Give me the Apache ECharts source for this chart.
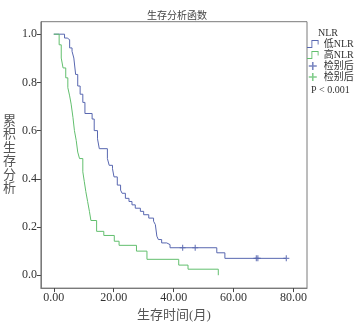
<!DOCTYPE html>
<html>
<head>
<meta charset="utf-8">
<script src="https://cdn.jsdelivr.net/npm/echarts@6/dist/echarts.min.js"></script>
<style>
  html, body { margin: 0; padding: 0; background: #fff; }
  #chart { width: 358px; height: 327px; }
</style>
</head>
<body>
<div id="chart"></div>
<script>
// ------------------------------------------------------------------
// 数据：Kaplan-Meier 生存曲线
// ------------------------------------------------------------------
const lowTime = [0, 3.6, 4.5, 5.3, 6.1, 6.7, 7.3, 8.0, 8.8, 9.7, 10.4, 12.8, 13.5, 14.6, 15.2,
  17.9, 18.5, 19.6, 20.1, 21.2, 22.3, 22.8, 23.9, 25.1, 26.1, 27.2, 28.9, 30.0, 31.7, 33.3,
  33.9, 34.4, 34.9, 36.0, 37.7, 38.8, 54.4, 57.1, 77.6]
const lowSurv = [1, 0.984, 0.977, 0.943, 0.929, 0.901, 0.833, 0.785, 0.751, 0.717, 0.671, 0.648,
  0.600, 0.566, 0.525, 0.484, 0.456, 0.442, 0.408, 0.374, 0.353, 0.340, 0.319, 0.306, 0.292,
  0.278, 0.265, 0.251, 0.237, 0.224, 0.210, 0.162, 0.148, 0.134, 0.127, 0.114, 0.093, 0.070, 0.070]

const highTime = [0, 1.8, 2.5, 3.1, 4.0, 4.7, 5.3, 5.8, 6.4, 6.9, 7.5, 8.0, 8.6, 9.7, 10.2, 10.7,
  11.3, 11.9, 12.4, 14.3, 16.7, 20.2, 21.8, 27.6, 31.1, 41.7, 44.8, 54.9]
const highSurv = [1, 0.956, 0.901, 0.860, 0.819, 0.778, 0.744, 0.710, 0.655, 0.600, 0.559, 0.511,
  0.484, 0.429, 0.388, 0.347, 0.306, 0.265, 0.227, 0.182, 0.165, 0.141, 0.124, 0.100, 0.066,
  0.042, 0.025, 0.0]

// 删失点
const lowCensorTime = [43.0, 47.2, 67.6, 68.1, 77.6]
const lowCensorSurv = [0.114, 0.114, 0.070, 0.070, 0.070]
const highCensorTime = []
const highCensorSurv = []

const xTicks = [0, 20, 40, 60, 80]
const yTicks = [0, 0.2, 0.4, 0.6, 0.8, 1.0]

const seriesNames = ['低NLR', '高NLR', '检别后', '检别后']

// ------------------------------------------------------------------
// 样式
// ------------------------------------------------------------------
const BLUE = '#5867b0'
const GREEN = '#62bf6e'
const FRAME = '#7a7a7a'
const TEXT = '#333'
const FONT = '"Liberation Serif", "Noto Sans CJK SC", serif'

const stepIcon = 'path://M0,9L5,9L5,1L13,1L13,6L12,6L12,2L6,2L6,10L0,10Z'
const plusIcon = 'path://M4,0L6,0L6,4L10,4L10,6L6,6L6,10L4,10L4,6L0,6L0,4L4,4Z'

const pair = (xs, ys) => xs.map((x, i) => [x, ys[i]])

const option = {
  animation: false,
  title: {
    text: '生存分析函数',
    left: 142,
    top: 6,
    textStyle: { fontFamily: FONT, fontSize: 10, fontWeight: 'normal', color: '#444' },
  },
  legend: {
    orient: 'vertical',
    left: 307,
    top: 39,
    itemWidth: 12,
    itemHeight: 8,
    itemGap: 1,
    padding: 0,
    textStyle: { fontFamily: FONT, fontSize: 10, color: TEXT, lineHeight: 9 },
    formatter: (name) => seriesNames[Number(name.slice(1))],
    data: [
      { name: 's0', icon: stepIcon },
      { name: 's1', icon: stepIcon },
      { name: 's2', icon: plusIcon },
      { name: 's3', icon: plusIcon },
    ],
  },
  graphic: [
    {
      type: 'text', left: 318, top: 28,
      style: { text: 'NLR', fontFamily: FONT, fontSize: 10, fill: TEXT },
    },
    {
      type: 'text', left: 311, top: 85,
      style: { text: 'P < 0.001', fontFamily: FONT, fontSize: 10, fill: TEXT },
    },
  ],
  grid: {
    left: 37.7,
    right: 51,
    top: 21.7,
    bottom: 36.3,
    show: true,
    borderColor: FRAME,
    borderWidth: 1,
  },
  xAxis: {
    type: 'value',
    min: -4.29,
    max: 84.5,
    name: '生存时间(月)',
    nameLocation: 'middle',
    nameGap: 19,
    nameTextStyle: { fontFamily: FONT, fontSize: 13, color: '#555' },
    axisLine: { show: true, onZero: false, lineStyle: { color: FRAME } },
    axisTick: { show: true, length: 4, lineStyle: { color: '#444' }, customValues: xTicks },
    axisLabel: {
      customValues: xTicks,
      formatter: (v) => v.toFixed(2),
      fontFamily: FONT, fontSize: 12, color: TEXT, margin: 4,
    },
    splitLine: { show: false },
  },
  yAxis: {
    type: 'value',
    min: -0.0534,
    max: 1.0518,
    name: '累\n积\n生\n存\n分\n析',
    nameLocation: 'middle',
    nameRotate: 0,
    nameGap: 24,
    nameTextStyle: { fontFamily: FONT, fontSize: 13, color: '#555', lineHeight: 13.5 },
    axisLine: { show: true, onZero: false, lineStyle: { color: FRAME } },
    axisTick: { show: true, length: 4, lineStyle: { color: '#444' }, customValues: yTicks },
    axisLabel: {
      customValues: yTicks,
      formatter: (v) => v.toFixed(1),
      fontFamily: FONT, fontSize: 12, color: TEXT, margin: 4,
    },
    splitLine: { show: false },
  },
  series: [
    {
      name: 's0',
      type: 'line',
      step: 'end',
      data: pair(lowTime, lowSurv),
      showSymbol: false,
      lineStyle: { color: BLUE, width: 1 },
      itemStyle: { color: BLUE },
    },
    {
      name: 's1',
      type: 'line',
      step: 'end',
      data: pair(highTime, highSurv),
      showSymbol: false,
      lineStyle: { color: GREEN, width: 1 },
      itemStyle: { color: GREEN },
    },
    {
      name: 's2',
      type: 'scatter',
      data: pair(lowCensorTime, lowCensorSurv),
      symbol: plusIcon,
      symbolSize: 6,
      itemStyle: { color: BLUE },
    },
    {
      name: 's3',
      type: 'scatter',
      data: pair(highCensorTime, highCensorSurv),
      symbol: plusIcon,
      symbolSize: 6,
      itemStyle: { color: GREEN },
    },
  ],
}

const chart = echarts.init(document.getElementById('chart'))
chart.setOption(option)
</script>
</body>
</html>
